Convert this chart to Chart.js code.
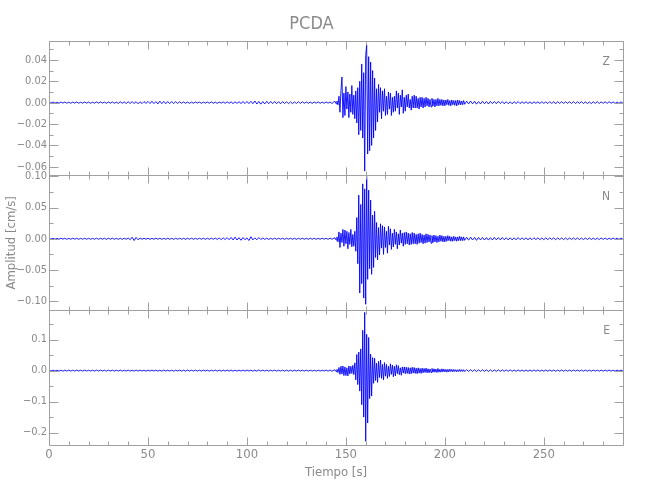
<!DOCTYPE html>
<html>
<head>
<meta charset="utf-8">
<title>PCDA</title>
<script src="https://cdn.jsdelivr.net/npm/chart.js@4.4.1/dist/chart.umd.min.js"></script>
<style>
  html, body { margin: 0; padding: 0; background: #fff; }
</style>
</head>
<body>
<canvas id="myChart" width="650" height="500"></canvas>
<script>
// sample times [s]: quiet before, event, quiet after
const tBefore = range(0, 144, 1);
const tEvent = range(144.5, 210, 0.5);
const tAfter = range(211, 290, 1);

// amplitudes in 10^-3 cm/s
const zBefore = [
  0.5,-0.4,0.6,-0.5,0.4,-0.6,0.5,-0.4,0.6,-0.5,
  0.4,-0.6,0.5,-0.4,0.6,-0.5,0.4,-0.5,0.6,-0.4,
  0.5,-0.6,0.4,-0.5,0.7,-0.5,0.6,-0.4,0.5,-0.6,
  0.6,-0.5,0.7,-0.6,0.5,-0.7,0.8,-0.6,0.7,-0.8,
  0.9,-0.7,1.0,-0.8,0.9,-1.1,0.8,-0.9,1.0,-0.7,
  1.1,-0.8,1.3,-0.9,1.0,-1.2,1.4,-0.9,1.2,-1.0,
  1.1,-0.9,1.0,-0.8,0.9,-0.7,0.8,-0.6,0.7,-0.6,
  0.5,-0.6,0.4,-0.5,0.6,-0.4,0.5,-0.6,0.5,-0.4,
  0.6,-0.5,0.7,-0.6,0.5,-0.7,0.6,-0.5,0.7,-0.6,
  0.8,-0.6,0.7,-0.9,0.8,-0.7,0.9,-0.8,1.0,-0.8,
  1.1,-0.9,1.2,-1.0,1.6,-1.3,1.1,-1.4,1.0,-1.2,
  1.3,-1.0,1.1,-0.9,1.2,-1.0,0.9,-1.1,1.0,-0.8,
  0.9,-1.0,0.8,-0.9,0.7,-0.8,0.9,-0.7,0.8,-0.6,
  0.7,-0.6,0.5,-0.7,0.6,-0.5,0.7,-0.6,0.5,-0.6,
  0.7,-0.5,0.6,-0.8,0.9
];
const zEvent = [
  1.2,-1.0,1.5,-2.0,6,-9,11,24,-14,9,
  -12,15,-6,10,-14,8,-9,16,-11,7,
  -15,11,-19,14,-30,20,-26,36,-33,28,
  -64,44,54,-48,43,-45,38,-40,30,-33,
  23,-26,13,-18,17,-9,14,-15,11,-8,
  13,-12,6,-11,10,-6,9,-12,5,-9,
  6,-8,11,-5,9,-11,7,-4,12,-10,
  5,-8,7,-4,8,-5,3,-7,6,-5,
  7,-5,6,-5,4,-6,5,-4,5,-5,
  4,-4,5,-3,4,-4,3,-4,4,-3,
  3,-4,3,-3,4,-3,3,-2.5,3,-3,
  2.5,-3,2.5,-2,3,-2.5,2,-3,2.5,-2,
  2,-2.5,2,-3,2.5,-2,2,-2,1.5,-2,
  2,-1.5
];
const zAfter = [
  1.4,-1.2,1.5,-1.1,1.3,-1.4,1.0,-1.2,1.3,-1.0,
  1.1,-1.3,1.2,-0.9,1.1,-1.0,1.2,-0.8,1.0,-1.1,
  0.9,-1.0,0.8,-1.1,0.9,-0.8,1.0,-0.9,0.8,-0.7,
  0.9,-0.8,0.7,-0.9,0.8,-0.6,0.7,-0.8,0.9,-0.7,
  0.8,-0.9,1.0,-0.8,0.9,-1.1,1.0,-0.8,0.9,-0.7,
  0.8,-0.7,0.9,-0.8,1.0,-0.9,0.8,-0.7,0.9,-0.8,
  0.7,-0.8,0.6,-0.9,0.8,-0.7,0.9,-0.8,0.7,-0.6,
  0.8,-0.7,0.9,-0.6,0.7,-0.8,0.6,-0.7,0.8,-0.6
];

const nBefore = [
  0.8,-0.6,0.7,-0.8,0.6,-0.7,0.8,-0.6,0.7,-0.8,
  0.6,-0.7,0.8,-0.6,0.7,-0.8,0.6,-0.7,0.8,-0.7,
  0.7,-0.8,0.6,-0.7,0.9,-0.8,0.7,-0.6,0.8,-0.9,
  0.8,-0.7,0.9,-0.8,0.7,-0.9,0.8,-1.0,0.9,-0.8,
  1.2,-1.5,2.4,-2.8,2.2,-1.6,1.1,-0.9,0.8,-0.7,
  0.8,-0.9,0.7,-0.8,0.9,-0.7,0.8,-0.9,0.7,-0.8,
  0.9,-0.8,0.7,-0.9,0.8,-0.7,0.9,-0.8,0.7,-0.9,
  0.8,-0.7,0.9,-0.8,0.7,-0.8,0.9,-0.7,0.8,-0.9,
  0.9,-0.8,1.0,-0.9,1.1,-1.0,1.2,-1.4,1.6,-1.3,
  1.8,-1.5,2.2,-1.9,2.6,-2.0,1.8,-2.4,2.0,-1.6,
  1.5,-2.8,3.2,-1.8,1.4,-1.6,2.0,-1.2,1.1,-1.0,
  0.9,-1.0,0.8,-0.9,1.0,-0.8,0.9,-0.7,0.8,-0.9,
  0.8,-0.7,0.9,-0.8,0.7,-0.9,0.8,-0.7,0.9,-0.8,
  0.7,-0.8,0.9,-0.7,0.8,-0.9,0.7,-0.8,0.9,-0.7,
  0.8,-0.9,1.0,-0.8,1.1
];
const nEvent = [
  1.5,-2,3,-5,11,-14,9,-6,15,-12,
  14,-8,12,-16,10,-9,15,-13,7,-12,
  12,-20,34,-40,70,-87,55,-72,88,-95,
  80,-105,100,-65,78,-48,62,-57,38,-46,
  44,-30,26,-34,18,-26,24,-15,21,-25,
  19,-14,12,-23,20,-10,16,-17,9,-13,
  15,-9,11,-16,8,-10,14,-7,9,-12,
  10,-9,11,-8,9,-10,8,-9,10,-8,
  9,-8,7,-9,8,-7,9,-6,7,-8,
  6,-7,8,-6,7,-5,6,-7,5,-6,
  6,-5,5,-6,4,-5,6,-4,5,-5,
  4,-5,4,-4,5,-3,4,-4,3,-4,
  4,-3,3,-4,3,-3,4,-3,3,-3,
  3,-2.5
];
const nAfter = [
  2.4,-2.2,2.6,-2.0,2.3,-2.5,2.1,-1.9,2.2,-2.0,
  1.9,-2.1,1.8,-2.0,2.2,-1.7,1.9,-1.8,2.0,-1.6,
  1.7,-1.8,1.6,-1.9,1.5,-1.7,1.8,-1.5,1.6,-1.4,
  1.5,-1.6,1.4,-1.5,1.7,-1.3,1.5,-1.4,1.3,-1.5,
  1.4,-1.3,1.5,-1.2,1.4,-1.5,1.3,-1.2,1.4,-1.3,
  1.2,-1.4,1.3,-1.1,1.2,-1.3,1.4,-1.2,1.1,-1.3,
  1.2,-1.1,1.3,-1.2,1.0,-1.2,1.1,-1.3,1.2,-1.0,
  1.1,-1.2,1.0,-1.1,1.2,-0.9,1.1,-1.0,1.2,-1.0
];

const eBefore = [
  1.5,-1.2,1.6,-1.4,1.3,-1.5,1.2,-1.6,1.4,-1.3,
  1.6,-1.4,1.2,-1.5,1.7,-1.3,1.4,-1.6,1.5,-1.2,
  1.3,-1.6,1.5,-1.4,1.8,-1.5,1.6,-1.3,1.4,-1.7,
  1.5,-1.3,1.6,-1.5,1.2,-1.4,1.7,-1.6,1.3,-1.5,
  1.8,-1.6,1.4,-1.7,1.9,-1.5,1.6,-1.4,1.5,-1.8,
  1.6,-1.5,1.7,-1.3,1.5,-1.6,1.4,-1.7,1.8,-1.5,
  1.4,-1.6,1.5,-1.8,1.6,-1.4,1.7,-1.5,1.3,-1.6,
  1.7,-1.4,1.5,-1.6,1.8,-1.7,1.4,-1.5,1.6,-1.3,
  1.5,-1.7,1.6,-1.4,1.9,-1.6,1.5,-1.8,1.7,-1.4,
  1.6,-1.5,1.8,-1.7,1.4,-1.6,1.5,-1.3,1.7,-1.6,
  1.8,-1.4,1.6,-1.9,1.5,-1.7,2.0,-1.6,1.7,-1.5,
  1.6,-1.8,1.5,-1.4,1.7,-1.6,1.3,-1.5,1.8,-1.7,
  1.5,-1.6,1.4,-1.7,1.6,-1.5,1.8,-1.4,1.5,-1.6,
  1.7,-1.5,1.6,-1.8,1.4,-1.6,1.5,-1.7,1.6,-1.4,
  1.8,-1.6,1.9,-2.2,2.0
];
const eEvent = [
  2.5,-3,4,-6,10,-12,14,-11,15,-16,
  12,-16,9,-17,15,-11,14,-9,17,-13,
  25,-30,52,-45,60,-66,70,-110,130,-150,
  188,-228,117,-169,107,-90,53,-82,42,-41,
  40,-32,24,-38,30,-22,34,-25,20,-30,
  26,-18,20,-25,14,-19,22,-12,18,-20,
  14,-17,19,-10,16,-13,9,-15,12,-8,
  12,-10,11,-9,10,-11,9,-10,11,-8,
  10,-9,8,-10,9,-8,7,-9,8,-7,
  7,-6,8,-7,6,-7,5,-6,7,-5,
  6,-5,5,-6,7,-5,4,-5,6,-4,
  5,-4,4,-5,4,-4,5,-3,4,-4,
  4,-3,3,-4,3,-3,4,-3,3,-3,
  3,-3
];
const eAfter = [
  2.8,-2.6,3.0,-2.4,2.7,-2.9,2.5,-2.6,2.8,-2.3,
  2.5,-2.7,2.4,-2.6,2.2,-2.5,2.6,-2.3,2.4,-2.2,
  2.3,-2.1,2.4,-2.2,2.0,-2.3,2.2,-2.0,2.1,-2.2,
  2.0,-2.2,1.9,-2.1,2.2,-1.9,2.0,-2.1,1.8,-2.0,
  1.9,-1.8,2.0,-1.9,1.8,-2.0,1.7,-1.9,2.0,-1.8,
  1.8,-1.9,1.7,-1.8,1.9,-1.6,1.8,-1.7,1.9,-1.8,
  1.7,-1.8,1.6,-1.7,1.8,-1.6,1.7,-1.9,1.6,-1.7,
  1.8,-1.6,1.7,-1.8,1.5,-1.7,1.6,-1.5,1.7,-1.6
];

const UNIT = 1e-3;
const TEXT = '#8a8a8a';
const AXIS = '#a0a0a0';
const FONT = '"Liberation Sans Narrow", "DejaVu Sans Condensed", "Liberation Sans", sans-serif';

function range(start, end, step) {
  const out = [];
  const n = Math.round((end - start) / step);
  for (let i = 0; i <= n; i++) out.push(start + i * step);
  return out;
}

const times = tBefore.concat(tEvent, tAfter);
function points(a, b, c) {
  const v = a.concat(b, c);
  return times.map((t, i) => ({ x: t, y: v[i] * UNIT }));
}

// one panel per component, top to bottom
const panels = [
  { id: 'yZ', name: 'Z', min: -0.068, max: 0.058, major: 0.02, minor: 0.01, dec: 2, data: points(zBefore, zEvent, zAfter) },
  { id: 'yN', name: 'N', min: -0.1145, max: 0.1016, major: 0.05, minor: 0.025, dec: 2, data: points(nBefore, nEvent, nAfter) },
  { id: 'yE', name: 'E', min: -0.240, max: 0.195, major: 0.1, minor: 0.05, dec: 1, data: points(eBefore, eEvent, eAfter) }
];

const scales = {
  x: {
    type: 'linear', min: 0, max: 290,
    grid: { display: false, drawTicks: false }, border: { display: false },
    ticks: { stepSize: 50, includeBounds: false, color: TEXT, font: { family: FONT, size: 13 }, padding: 2, maxRotation: 0 },
    afterFit: s => { s.height = 55; },
    title: { display: true, text: 'Tiempo [s]', color: TEXT, font: { family: FONT, size: 13 }, padding: { top: 0, bottom: 20 } }
  }
};
// stacked axes are laid out bottom-up, so add them in reverse
panels.slice().reverse().forEach(p => {
  scales[p.id] = {
    type: 'linear', position: 'left', stack: 'traces', stackWeight: 1,
    min: p.min, max: p.max,
    grid: { display: false, drawTicks: false }, border: { display: false },
    ticks: {
      stepSize: p.major, includeBounds: false, color: TEXT, font: { family: FONT, size: 11 }, padding: 2,
      callback: v => (v < -1e-9 ? '\u2212' : '') + Math.abs(v).toFixed(p.dec)
    },
    afterFit: s => { s.width = 49; },
    title: {
      display: p.id === 'yN', text: 'Amplitud [cm/s]', color: TEXT,
      font: { family: FONT, size: 13 }, padding: { top: 4, bottom: 0 }
    }
  };
});

// frame and inward ticks of each panel, plus the component letter
const panelFrame = {
  id: 'panelFrame',
  afterDatasetsDraw(chart) {
    const { ctx, chartArea: a } = chart;
    const x = chart.scales.x;
    const l = Math.round(a.left) + 0.5, r = Math.round(a.right) + 0.5;
    ctx.save();
    ctx.strokeStyle = AXIS;
    ctx.lineWidth = 1;
    panels.forEach(p => {
      const s = chart.scales[p.id];
      const top = Math.round(s.top) + 0.5, bot = Math.round(s.bottom) + 0.5;
      ctx.beginPath();
      ctx.rect(l, top, r - l, bot - top);
      for (let k = 0; k * 10 <= x.max; k++) {
        const px = Math.round(x.getPixelForValue(k * 10)) + 0.5;
        const len = k % 5 === 0 ? 8 : 4;
        ctx.moveTo(px, top); ctx.lineTo(px, top + len);
        ctx.moveTo(px, bot); ctx.lineTo(px, bot - len);
      }
      const ratio = Math.round(p.major / p.minor);
      for (let k = Math.ceil(p.min / p.minor); k * p.minor <= p.max + 1e-9; k++) {
        const py = Math.round(s.getPixelForValue(k * p.minor)) + 0.5;
        const len = k % ratio === 0 ? 9 : 4;
        ctx.moveTo(l, py); ctx.lineTo(l + len, py);
        ctx.moveTo(r, py); ctx.lineTo(r - len, py);
      }
      ctx.stroke();
      ctx.fillStyle = TEXT;
      ctx.font = '12px ' + FONT;
      ctx.textAlign = 'right';
      ctx.textBaseline = 'top';
      ctx.fillText(p.name, a.right - 13, s.top + 15);
    });
    ctx.restore();
  }
};

new Chart(document.getElementById('myChart'), {
  type: 'line',
  data: {
    datasets: panels.map(p => ({
      label: p.name, data: p.data, yAxisID: p.id,
      borderColor: '#0000ff', borderWidth: 0.9, pointRadius: 0, tension: 0, fill: false
    }))
  },
  options: {
    responsive: false, animation: false, devicePixelRatio: 1,
    layout: { padding: { left: 0, right: 27, top: 0, bottom: 0 } },
    plugins: {
      legend: { display: false }, tooltip: { enabled: false },
      title: {
        display: true, text: 'PCDA', color: TEXT,
        font: { family: FONT, size: 18, weight: 'normal' }, padding: { top: 14, bottom: 5 }
      }
    },
    scales: scales
  },
  plugins: [panelFrame]
});
</script>
</body>
</html>
